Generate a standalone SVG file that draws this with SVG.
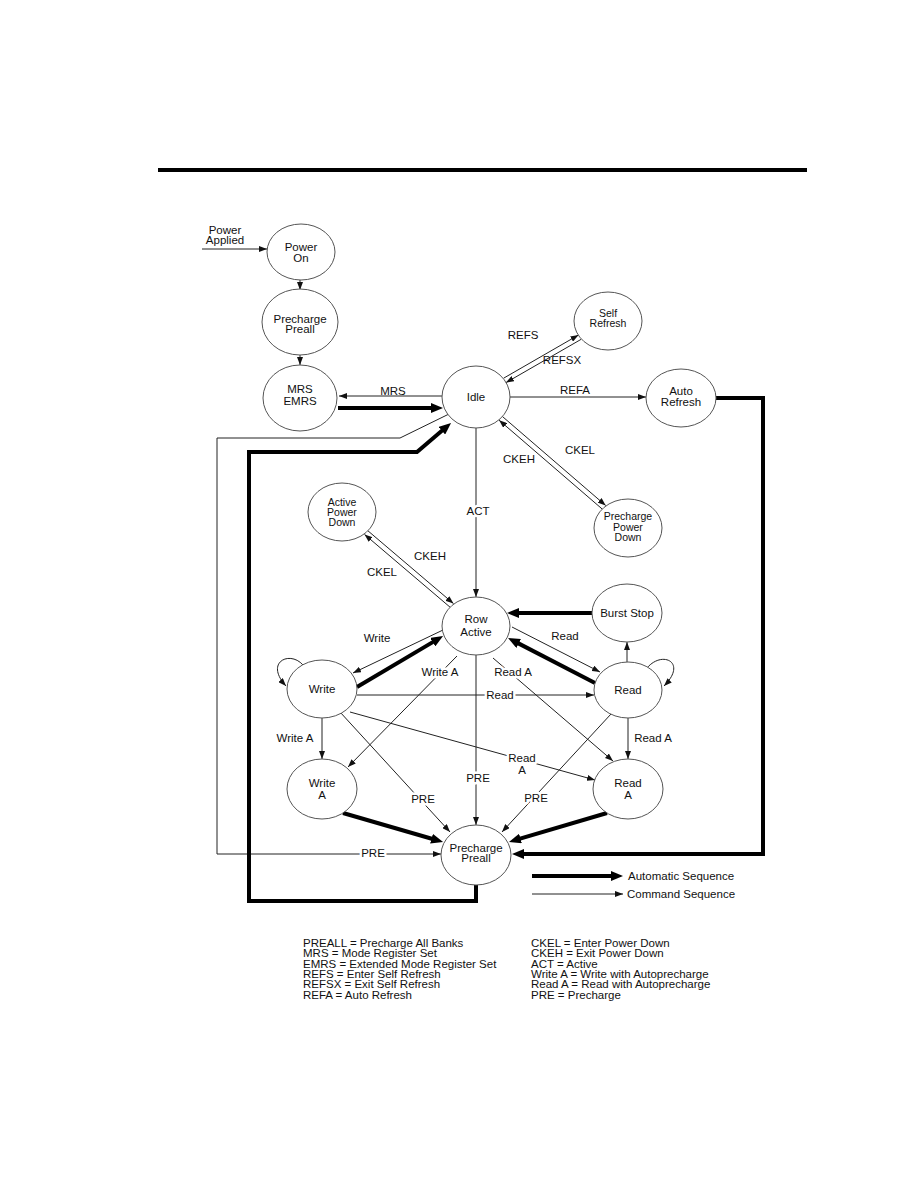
<svg xmlns="http://www.w3.org/2000/svg" width="918" height="1188" viewBox="0 0 918 1188">
<style>
text{font-family:"Liberation Sans",Arial,sans-serif;font-size:11.5px;fill:#111}
.n{text-anchor:middle}
.s{font-size:10.5px}
.node ellipse{fill:#fff;stroke:#555;stroke-width:1}
.t{fill:none;stroke:#222;stroke-width:1}
.k{fill:none;stroke:#000;stroke-width:4}
.h{paint-order:stroke;stroke:#fff;stroke-width:5px;stroke-linejoin:round}
</style>
<defs>
<marker id="a" markerUnits="userSpaceOnUse" markerWidth="8" markerHeight="6" refX="8" refY="3" orient="auto"><path d="M0,0 L8,3 L0,6 z" fill="#111"/></marker>
<marker id="b" markerUnits="userSpaceOnUse" markerWidth="12" markerHeight="10" refX="3" refY="5" orient="auto"><path d="M0,0 L12,5 L0,10 z" fill="#000"/></marker>
</defs>
<rect x="158" y="168" width="649" height="4" fill="#000"/>

<g id="connectors">
<line class="t" x1="202" y1="249" x2="267" y2="249" marker-end="url(#a)"/>
<line class="t" x1="300" y1="280" x2="300" y2="290" marker-end="url(#a)"/>
<line class="t" x1="300" y1="355" x2="300" y2="365" marker-end="url(#a)"/>
<line class="t" x1="442" y1="396" x2="339" y2="396" marker-end="url(#a)"/>
<line class="k" x1="338" y1="408" x2="434" y2="408" marker-end="url(#b)"/>
<line class="t" x1="503.6" y1="378.2" x2="578.5" y2="335" marker-end="url(#a)"/>
<line class="t" x1="581" y1="339.4" x2="506" y2="382.6" marker-end="url(#a)"/>
<line class="t" x1="510" y1="397" x2="646" y2="397" marker-end="url(#a)"/>
<polyline class="k" points="716,398 763,398 763,854 521,854" marker-end="url(#b)"/>
<line class="t" x1="502.3" y1="416.4" x2="605.7" y2="505.5" marker-end="url(#a)"/>
<line class="t" x1="602.5" y1="509.3" x2="499.1" y2="420.2" marker-end="url(#a)"/>
<polyline class="t" points="449,414 400,438 217,438 217,854 441,854" marker-end="url(#a)"/>
<polyline class="k" points="476,885 476,901 249,901 249,452 417,452 444.2,428.8" marker-end="url(#b)"/>
<line class="t" x1="476" y1="428" x2="476" y2="597" marker-end="url(#a)"/>
<line class="t" x1="367.7" y1="530.6" x2="453.5" y2="603.6" marker-end="url(#a)"/>
<line class="t" x1="450.3" y1="607.4" x2="364.5" y2="534.4" marker-end="url(#a)"/>
<line class="k" x1="592" y1="613" x2="516" y2="613" marker-end="url(#b)"/>
<line class="t" x1="627" y1="662" x2="627" y2="642" marker-end="url(#a)"/>
<line class="k" x1="595" y1="683" x2="516" y2="642.1" marker-end="url(#b)"/>
<line class="t" x1="512" y1="627" x2="600" y2="672" marker-end="url(#a)"/>
<line class="t" x1="443" y1="630" x2="353" y2="673" marker-end="url(#a)"/>
<line class="k" x1="357" y1="687" x2="435.3" y2="640.6" marker-end="url(#b)"/>
<path class="t" d="M303,665 C290,650 264,662 286,686" marker-end="url(#a)"/>
<path class="t" d="M647,668 C662,650 688,662 664,686" marker-end="url(#a)"/>
<line class="t" x1="357" y1="695" x2="594" y2="695" marker-end="url(#a)"/>
<line class="t" x1="457" y1="656" x2="348" y2="767" marker-end="url(#a)"/>
<line class="t" x1="493" y1="658" x2="613" y2="761" marker-end="url(#a)"/>
<line class="t" x1="476" y1="655" x2="476" y2="825" marker-end="url(#a)"/>
<line class="t" x1="340" y1="712" x2="450" y2="832" marker-end="url(#a)"/>
<line class="t" x1="611" y1="714" x2="502" y2="832" marker-end="url(#a)"/>
<line class="t" x1="350" y1="712" x2="595" y2="780" marker-end="url(#a)"/>
<line class="t" x1="322" y1="718" x2="322" y2="759" marker-end="url(#a)"/>
<line class="t" x1="628" y1="718" x2="628" y2="759" marker-end="url(#a)"/>
<line class="k" x1="343" y1="813" x2="434.4" y2="839.5" marker-end="url(#b)"/>
<line class="k" x1="607" y1="813" x2="517.6" y2="839.4" marker-end="url(#b)"/>

<text x="225" y="234" class="n">Power</text>
<text x="225" y="244" class="n">Applied</text>
<text x="393" y="395" class="n">MRS</text>
<text x="523" y="339" class="n">REFS</text>
<text x="562" y="364" class="n">REFSX</text>
<text x="575" y="394" class="n">REFA</text>
<text x="580" y="454" class="n">CKEL</text>
<text x="519" y="463" class="n">CKEH</text>
<text x="478" y="515" class="n h">ACT</text>
<text x="430" y="560" class="n">CKEH</text>
<text x="382" y="576" class="n">CKEL</text>
<text x="377" y="642" class="n">Write</text>
<text x="565" y="640" class="n">Read</text>
<text x="440" y="676" class="n h">Write A</text>
<text x="513" y="676" class="n h">Read A</text>
<text x="500" y="699" class="n h">Read</text>
<text x="295" y="742" class="n">Write A</text>
<text x="653" y="742" class="n">Read A</text>
<text x="522" y="762" class="n h">Read</text>
<text x="522" y="774" class="n h">A</text>
<text x="478" y="782" class="n h">PRE</text>
<text x="423" y="803" class="n h">PRE</text>
<text x="536" y="802" class="n h">PRE</text>
<text x="373" y="857" class="n h">PRE</text>
</g>

<g id="power-on" class="node"><ellipse cx="301" cy="252" rx="34" ry="28"/><text x="301" y="251" class="n">Power</text><text x="301" y="262" class="n">On</text></g>
<g id="precharge-top" class="node"><ellipse cx="300" cy="322" rx="38" ry="33"/><text x="300" y="323" class="n">Precharge</text><text x="300" y="333" class="n">Preall</text></g>
<g id="mrs-emrs" class="node"><ellipse cx="300" cy="398" rx="37" ry="33"/><text x="300" y="393" class="n">MRS</text><text x="300" y="405" class="n">EMRS</text></g>
<g id="idle" class="node"><ellipse cx="476" cy="397" rx="34" ry="31"/><text x="476" y="401" class="n">Idle</text></g>
<g id="self-refresh" class="node"><ellipse cx="608" cy="321" rx="34" ry="29"/><text x="608" y="317" class="n s">Self</text><text x="608" y="327" class="n s">Refresh</text></g>
<g id="auto-refresh" class="node"><ellipse cx="681" cy="398" rx="35" ry="29"/><text x="681" y="395" class="n">Auto</text><text x="681" y="406" class="n">Refresh</text></g>
<g id="active-power-down" class="node"><ellipse cx="342" cy="512" rx="34" ry="29"/><text x="342" y="506" class="n s">Active</text><text x="342" y="516" class="n s">Power</text><text x="342" y="526" class="n s">Down</text></g>
<g id="precharge-power-down" class="node"><ellipse cx="628" cy="528" rx="34" ry="29"/><text x="628" y="520" class="n s">Precharge</text><text x="628" y="531" class="n s">Power</text><text x="628" y="541" class="n s">Down</text></g>
<g id="row-active" class="node"><ellipse cx="476" cy="626" rx="34" ry="29"/><text x="476" y="623" class="n">Row</text><text x="476" y="636" class="n">Active</text></g>
<g id="burst-stop" class="node"><ellipse cx="627" cy="613" rx="35" ry="29"/><text x="627" y="617" class="n">Burst Stop</text></g>
<g id="write" class="node"><ellipse cx="322" cy="689" rx="35" ry="29"/><text x="322" y="693" class="n">Write</text></g>
<g id="read" class="node"><ellipse cx="628" cy="690" rx="34" ry="28"/><text x="628" y="694" class="n">Read</text></g>
<g id="write-a" class="node"><ellipse cx="322" cy="789" rx="35" ry="30"/><text x="322" y="787" class="n">Write</text><text x="322" y="799" class="n">A</text></g>
<g id="read-a" class="node"><ellipse cx="628" cy="789" rx="35" ry="30"/><text x="628" y="787" class="n">Read</text><text x="628" y="799" class="n">A</text></g>
<g id="precharge-bottom" class="node"><ellipse cx="476" cy="855" rx="35" ry="30"/><text x="476" y="852" class="n">Precharge</text><text x="476" y="862" class="n">Preall</text></g>

<g id="legend">
<line class="k" x1="532" y1="876" x2="614" y2="876" marker-end="url(#b)"/>
<text x="628" y="880">Automatic Sequence</text>
<line class="t" x1="532" y1="894" x2="623" y2="894" marker-end="url(#a)"/>
<text x="627" y="898">Command Sequence</text>
</g>

<g id="glossary">
<text x="303" y="947">PREALL = Precharge All Banks</text>
<text x="303" y="957">MRS = Mode Register Set</text>
<text x="303" y="968">EMRS = Extended Mode Register Set</text>
<text x="303" y="978">REFS = Enter Self Refresh</text>
<text x="303" y="988">REFSX = Exit Self Refresh</text>
<text x="303" y="999">REFA = Auto Refresh</text>
<text x="531" y="947">CKEL = Enter Power Down</text>
<text x="531" y="957">CKEH = Exit Power Down</text>
<text x="531" y="968">ACT = Active</text>
<text x="531" y="978">Write A = Write with Autoprecharge</text>
<text x="531" y="988">Read A = Read with Autoprecharge</text>
<text x="531" y="999">PRE = Precharge</text>
</g>
</svg>
